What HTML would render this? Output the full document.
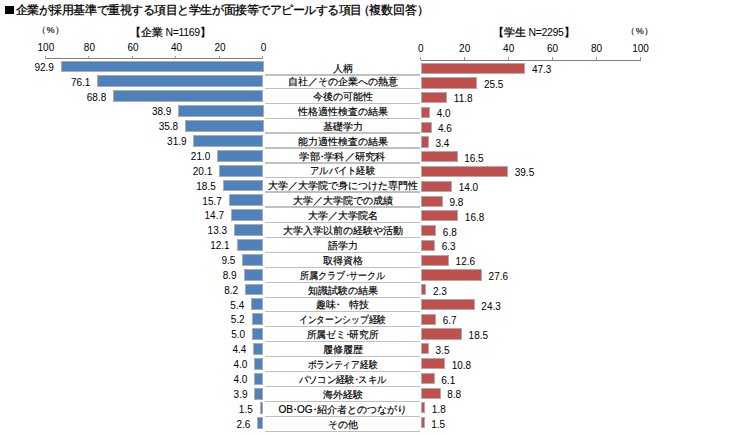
<!DOCTYPE html><html lang="ja"><head><meta charset="utf-8"><style>
*{margin:0;padding:0;box-sizing:border-box}
html,body{width:750px;height:437px;background:#fff;overflow:hidden}
body{position:relative;font-family:"Liberation Sans",sans-serif;color:#000}
.t{position:absolute;white-space:nowrap;line-height:1}
.tt{-webkit-text-stroke:0.3px #000}
.hb{font-weight:normal}
.cj{-webkit-text-stroke:0.25px #000}
.bl{position:absolute;background:#4f81bd;border:1px solid #acacac;background-clip:padding-box}
.br{position:absolute;background:#c0504d;border:1px solid #acacac;background-clip:padding-box}
.ln{position:absolute;height:1.4px;background:#c0c0c0}
.ax{position:absolute;background:#7f7f7f}
.tk{position:absolute;background:#9a9a9a}
.v{position:absolute;font-size:10px;line-height:10px;white-space:nowrap}
.nd{margin:0 -3px}
.lab{position:absolute;left:265px;width:155px;text-align:center;font-size:10px;line-height:12px;white-space:nowrap;-webkit-text-stroke:0.18px #000}
</style></head><body>

<div style="position:absolute;left:5.3px;top:5.9px;width:8.6px;height:8px;background:#000"></div>
<div class="t tt" style="left:15.8px;top:4.3px;font-size:12px;letter-spacing:-0.46px">企業が採用基準で重視する項目と学生が面接等でアピールする項目</div>
<div class="t tt" style="left:358.1px;top:4.3px;font-size:12px;">（</div>
<div class="t tt" style="left:368.6px;top:4.3px;font-size:12px;">複数回答</div>
<div class="t tt" style="left:417.2px;top:4.3px;font-size:12px;">）</div>
<div class="t" style="left:37px;top:25.5px;font-size:9px;-webkit-text-stroke:0.15px #000">（<span style="margin-left:0.4px">%</span><span style="margin-left:0.2px">）</span></div>
<div class="t" style="left:626.3px;top:26.5px;font-size:9px;-webkit-text-stroke:0.15px #000">（<span style="margin-left:0.4px">%</span><span style="margin-left:0.2px">）</span></div>
<div class="t hb" style="left:130px;top:27.3px;font-size:10.5px;"><span class="cj">【企業</span><span style="letter-spacing:-0.35px"> N=1169</span><span class="cj">】</span></div>
<div class="t hb" style="left:493px;top:27.3px;font-size:10.5px;"><span class="cj">【学生</span><span style="letter-spacing:-0.35px"> N=2295</span><span class="cj">】</span></div>
<div class="v" style="left:243.50px;width:40px;text-align:center;top:43px;">0</div>
<div class="v" style="left:400.70px;width:40px;text-align:center;top:44px;">0</div>
<div class="v" style="left:199.98px;width:40px;text-align:center;top:43px;">20</div>
<div class="v" style="left:444.68px;width:40px;text-align:center;top:44px;">20</div>
<div class="v" style="left:156.46px;width:40px;text-align:center;top:43px;">40</div>
<div class="v" style="left:488.66px;width:40px;text-align:center;top:44px;">40</div>
<div class="v" style="left:112.94px;width:40px;text-align:center;top:43px;">60</div>
<div class="v" style="left:532.64px;width:40px;text-align:center;top:44px;">60</div>
<div class="v" style="left:69.42px;width:40px;text-align:center;top:43px;">80</div>
<div class="v" style="left:576.62px;width:40px;text-align:center;top:44px;">80</div>
<div class="v" style="left:25.90px;width:40px;text-align:center;top:43px;">100</div>
<div class="v" style="left:620.60px;width:40px;text-align:center;top:44px;">100</div>
<div class="ax" style="left:45.90px;width:217.60px;top:57.9px;height:1px"></div>
<div class="ax" style="left:420.70px;width:219.90px;top:59.9px;height:1px"></div>
<div class="tk" style="left:262.20px;width:1px;top:55.8px;height:3px"></div>
<div class="tk" style="left:420.40px;width:1px;top:57.4px;height:3px"></div>
<div class="tk" style="left:218.68px;width:1px;top:55.8px;height:3px"></div>
<div class="tk" style="left:464.38px;width:1px;top:57.4px;height:3px"></div>
<div class="tk" style="left:175.16px;width:1px;top:55.8px;height:3px"></div>
<div class="tk" style="left:508.36px;width:1px;top:57.4px;height:3px"></div>
<div class="tk" style="left:131.64px;width:1px;top:55.8px;height:3px"></div>
<div class="tk" style="left:552.34px;width:1px;top:57.4px;height:3px"></div>
<div class="tk" style="left:88.12px;width:1px;top:55.8px;height:3px"></div>
<div class="tk" style="left:596.32px;width:1px;top:57.4px;height:3px"></div>
<div class="tk" style="left:44.60px;width:1px;top:55.8px;height:3px"></div>
<div class="tk" style="left:640.30px;width:1px;top:57.4px;height:3px"></div>
<div class="bl" style="left:60.75px;width:202.75px;top:60.60px;height:11.9px"></div>
<div class="v" style="left:13.85px;width:40px;text-align:right;top:62.80px;">92.9</div>
<div class="br" style="left:421.40px;width:104.01px;top:62.60px;height:11.2px"></div>
<div class="v" style="left:531.91px;top:64.70px;">47.3</div>
<div class="ln" style="left:265px;width:155px;top:74.20px"></div>
<div class="lab" style="top:62.50px;">人柄</div>
<div class="bl" style="left:97.31px;width:166.19px;top:75.46px;height:11.9px"></div>
<div class="v" style="left:50.41px;width:40px;text-align:right;top:77.66px;">76.1</div>
<div class="br" style="left:421.40px;width:56.07px;top:77.37px;height:11.2px"></div>
<div class="v" style="left:483.97px;top:79.50px;">25.5</div>
<div class="ln" style="left:265px;width:155px;top:87.80px"></div>
<div class="lab" style="top:76.10px;">自社／その企業への熱意</div>
<div class="bl" style="left:113.19px;width:150.31px;top:90.33px;height:11.9px"></div>
<div class="v" style="left:66.29px;width:40px;text-align:right;top:92.53px;">68.8</div>
<div class="br" style="left:421.40px;width:25.95px;top:92.14px;height:11.2px"></div>
<div class="v" style="left:453.85px;top:94.30px;">11.8</div>
<div class="ln" style="left:265px;width:155px;top:103.00px"></div>
<div class="lab" style="top:91.30px;">今後の可能性</div>
<div class="bl" style="left:178.25px;width:85.25px;top:105.19px;height:11.9px"></div>
<div class="v" style="left:131.35px;width:40px;text-align:right;top:107.39px;">38.9</div>
<div class="br" style="left:421.40px;width:8.80px;top:106.91px;height:11.2px"></div>
<div class="v" style="left:436.70px;top:109.10px;">4.0</div>
<div class="ln" style="left:265px;width:155px;top:117.50px"></div>
<div class="lab" style="top:105.80px;">性格適性検査の結果</div>
<div class="bl" style="left:185.00px;width:78.50px;top:120.06px;height:11.9px"></div>
<div class="v" style="left:138.10px;width:40px;text-align:right;top:122.26px;">35.8</div>
<div class="br" style="left:421.40px;width:10.12px;top:121.68px;height:11.2px"></div>
<div class="v" style="left:438.02px;top:123.90px;">4.6</div>
<div class="ln" style="left:265px;width:155px;top:132.40px"></div>
<div class="lab" style="top:120.70px;">基礎学力</div>
<div class="bl" style="left:193.49px;width:70.01px;top:134.92px;height:11.9px"></div>
<div class="v" style="left:146.59px;width:40px;text-align:right;top:137.12px;">31.9</div>
<div class="br" style="left:421.40px;width:7.48px;top:136.45px;height:11.2px"></div>
<div class="v" style="left:435.38px;top:138.70px;">3.4</div>
<div class="ln" style="left:265px;width:155px;top:147.30px"></div>
<div class="lab" style="top:135.60px;">能力適性検査の結果</div>
<div class="bl" style="left:217.20px;width:46.30px;top:149.78px;height:11.9px"></div>
<div class="v" style="left:170.30px;width:40px;text-align:right;top:151.98px;">21.0</div>
<div class="br" style="left:421.40px;width:36.28px;top:151.22px;height:11.2px"></div>
<div class="v" style="left:464.18px;top:153.50px;">16.5</div>
<div class="ln" style="left:265px;width:155px;top:162.40px"></div>
<div class="lab" style="top:150.70px;transform:scaleX(1.0286);">学部<span class="nd">・</span>学科／研究科</div>
<div class="bl" style="left:219.16px;width:44.34px;top:164.65px;height:11.9px"></div>
<div class="v" style="left:172.26px;width:40px;text-align:right;top:166.85px;">20.1</div>
<div class="br" style="left:421.40px;width:86.86px;top:165.99px;height:11.2px"></div>
<div class="v" style="left:514.76px;top:168.30px;">39.5</div>
<div class="ln" style="left:265px;width:155px;top:176.60px"></div>
<div class="lab" style="top:164.90px;transform:scaleX(0.9275);">アルバイト経験</div>
<div class="bl" style="left:222.64px;width:40.86px;top:179.51px;height:11.9px"></div>
<div class="v" style="left:175.74px;width:40px;text-align:right;top:181.71px;">18.5</div>
<div class="br" style="left:421.40px;width:30.79px;top:180.76px;height:11.2px"></div>
<div class="v" style="left:458.69px;top:183.10px;">14.0</div>
<div class="ln" style="left:265px;width:155px;top:191.30px"></div>
<div class="lab" style="top:179.60px;">大学／大学院で身につけた専門性</div>
<div class="bl" style="left:228.74px;width:34.76px;top:194.38px;height:11.9px"></div>
<div class="v" style="left:181.84px;width:40px;text-align:right;top:196.58px;">15.7</div>
<div class="br" style="left:421.40px;width:21.55px;top:195.53px;height:11.2px"></div>
<div class="v" style="left:449.45px;top:197.90px;">9.8</div>
<div class="ln" style="left:265px;width:155px;top:206.40px"></div>
<div class="lab" style="top:194.70px;">大学／大学院での成績</div>
<div class="bl" style="left:230.91px;width:32.59px;top:209.24px;height:11.9px"></div>
<div class="v" style="left:184.01px;width:40px;text-align:right;top:211.44px;">14.7</div>
<div class="br" style="left:421.40px;width:36.94px;top:210.30px;height:11.2px"></div>
<div class="v" style="left:464.84px;top:212.70px;">16.8</div>
<div class="ln" style="left:265px;width:155px;top:221.50px"></div>
<div class="lab" style="top:209.80px;">大学／大学院名</div>
<div class="bl" style="left:233.96px;width:29.54px;top:224.10px;height:11.9px"></div>
<div class="v" style="left:187.06px;width:40px;text-align:right;top:226.30px;">13.3</div>
<div class="br" style="left:421.40px;width:14.95px;top:225.07px;height:11.2px"></div>
<div class="v" style="left:442.85px;top:227.50px;">6.8</div>
<div class="ln" style="left:265px;width:155px;top:236.70px"></div>
<div class="lab" style="top:225.00px;">大学入学以前の経験や活動</div>
<div class="bl" style="left:236.57px;width:26.93px;top:238.97px;height:11.9px"></div>
<div class="v" style="left:189.67px;width:40px;text-align:right;top:241.17px;">12.1</div>
<div class="br" style="left:421.40px;width:13.85px;top:239.84px;height:11.2px"></div>
<div class="v" style="left:441.75px;top:242.30px;">6.3</div>
<div class="ln" style="left:265px;width:155px;top:251.80px"></div>
<div class="lab" style="top:240.10px;">語学力</div>
<div class="bl" style="left:242.23px;width:21.27px;top:253.83px;height:11.9px"></div>
<div class="v" style="left:195.33px;width:40px;text-align:right;top:256.03px;">9.5</div>
<div class="br" style="left:421.40px;width:27.71px;top:254.61px;height:11.2px"></div>
<div class="v" style="left:455.61px;top:257.10px;">12.6</div>
<div class="ln" style="left:265px;width:155px;top:266.90px"></div>
<div class="lab" style="top:255.20px;">取得資格</div>
<div class="bl" style="left:243.53px;width:19.97px;top:268.70px;height:11.9px"></div>
<div class="v" style="left:196.63px;width:40px;text-align:right;top:270.90px;">8.9</div>
<div class="br" style="left:421.40px;width:60.69px;top:269.38px;height:11.2px"></div>
<div class="v" style="left:488.59px;top:271.90px;">27.6</div>
<div class="ln" style="left:265px;width:155px;top:281.60px"></div>
<div class="lab" style="top:269.90px;transform:scaleX(0.9074);">所属クラブ<span class="nd">・</span>サークル</div>
<div class="bl" style="left:245.06px;width:18.44px;top:283.56px;height:11.9px"></div>
<div class="v" style="left:198.16px;width:40px;text-align:right;top:285.76px;">8.2</div>
<div class="br" style="left:421.40px;width:5.06px;top:284.15px;height:11.2px"></div>
<div class="v" style="left:432.96px;top:286.70px;">2.3</div>
<div class="ln" style="left:265px;width:155px;top:296.50px"></div>
<div class="lab" style="top:284.80px;">知識試験の結果</div>
<div class="bl" style="left:251.15px;width:12.35px;top:298.42px;height:11.9px"></div>
<div class="v" style="left:204.25px;width:40px;text-align:right;top:300.62px;">5.4</div>
<div class="br" style="left:421.40px;width:53.44px;top:298.92px;height:11.2px"></div>
<div class="v" style="left:481.34px;top:301.50px;">24.3</div>
<div class="ln" style="left:265px;width:155px;top:310.90px"></div>
<div class="lab" style="top:299.20px;">趣味<span class="nd">・</span><span style="margin-left:8.5px">特技</span></div>
<div class="bl" style="left:251.58px;width:11.92px;top:313.29px;height:11.9px"></div>
<div class="v" style="left:204.68px;width:40px;text-align:right;top:315.49px;">5.2</div>
<div class="br" style="left:421.40px;width:14.73px;top:313.69px;height:11.2px"></div>
<div class="v" style="left:442.63px;top:316.30px;">6.7</div>
<div class="ln" style="left:265px;width:155px;top:326.00px"></div>
<div class="lab" style="top:314.30px;transform:scaleX(0.8717);">インターンシップ経験</div>
<div class="bl" style="left:252.02px;width:11.48px;top:328.15px;height:11.9px"></div>
<div class="v" style="left:205.12px;width:40px;text-align:right;top:330.35px;">5.0</div>
<div class="br" style="left:421.40px;width:40.68px;top:328.46px;height:11.2px"></div>
<div class="v" style="left:468.58px;top:331.10px;">18.5</div>
<div class="ln" style="left:265px;width:155px;top:340.50px"></div>
<div class="lab" style="top:328.80px;transform:scaleX(0.9649);">所属ゼミ<span class="nd">・</span>研究所</div>
<div class="bl" style="left:253.33px;width:10.17px;top:343.02px;height:11.9px"></div>
<div class="v" style="left:206.43px;width:40px;text-align:right;top:345.22px;">4.4</div>
<div class="br" style="left:421.40px;width:7.70px;top:343.23px;height:11.2px"></div>
<div class="v" style="left:435.60px;top:345.90px;">3.5</div>
<div class="ln" style="left:265px;width:155px;top:355.60px"></div>
<div class="lab" style="top:343.90px;">履修履歴</div>
<div class="bl" style="left:254.20px;width:9.30px;top:357.88px;height:11.9px"></div>
<div class="v" style="left:207.30px;width:40px;text-align:right;top:360.08px;">4.0</div>
<div class="br" style="left:421.40px;width:23.75px;top:358.00px;height:11.2px"></div>
<div class="v" style="left:451.65px;top:360.70px;">10.8</div>
<div class="ln" style="left:265px;width:155px;top:370.70px"></div>
<div class="lab" style="top:359.00px;transform:scaleX(0.8675);">ボランティア経験</div>
<div class="bl" style="left:254.20px;width:9.30px;top:372.74px;height:11.9px"></div>
<div class="v" style="left:207.30px;width:40px;text-align:right;top:374.94px;">4.0</div>
<div class="br" style="left:421.40px;width:13.41px;top:372.77px;height:11.2px"></div>
<div class="v" style="left:441.31px;top:375.50px;">6.1</div>
<div class="ln" style="left:265px;width:155px;top:385.80px"></div>
<div class="lab" style="top:374.10px;transform:scaleX(0.9351);">パソコン経験<span class="nd">・</span>スキル</div>
<div class="bl" style="left:254.41px;width:9.09px;top:387.61px;height:11.9px"></div>
<div class="v" style="left:207.51px;width:40px;text-align:right;top:389.81px;">3.9</div>
<div class="br" style="left:421.40px;width:19.35px;top:387.54px;height:11.2px"></div>
<div class="v" style="left:447.25px;top:390.30px;">8.8</div>
<div class="ln" style="left:265px;width:155px;top:400.80px"></div>
<div class="lab" style="top:389.10px;">海外経験</div>
<div class="bl" style="left:259.64px;width:3.86px;top:402.47px;height:11.9px"></div>
<div class="v" style="left:212.74px;width:40px;text-align:right;top:404.67px;">1.5</div>
<div class="br" style="left:421.40px;width:3.96px;top:402.31px;height:11.2px"></div>
<div class="v" style="left:431.86px;top:405.10px;">1.8</div>
<div class="ln" style="left:265px;width:155px;top:415.90px"></div>
<div class="lab" style="top:404.20px;">OB<span class="nd">・</span>OG<span class="nd">・</span>紹介者とのつながり</div>
<div class="bl" style="left:257.24px;width:6.26px;top:417.34px;height:11.9px"></div>
<div class="v" style="left:210.34px;width:40px;text-align:right;top:419.54px;">2.6</div>
<div class="br" style="left:421.40px;width:3.30px;top:417.08px;height:11.2px"></div>
<div class="v" style="left:431.20px;top:419.90px;">1.5</div>
<div class="ln" style="left:265px;width:155px;top:431.00px"></div>
<div class="lab" style="top:419.30px;">その他</div>
</body></html>
